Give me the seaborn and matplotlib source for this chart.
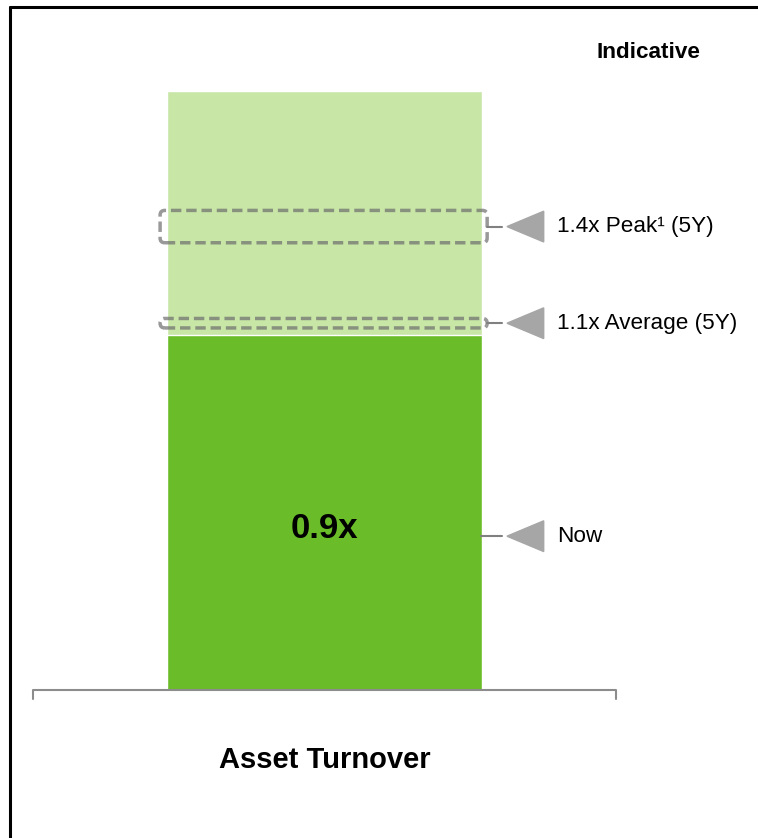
import matplotlib
matplotlib.use('Agg')
import matplotlib.pyplot as plt
import seaborn as sns
import pandas as pd
from matplotlib.patches import Polygon, FancyBboxPatch
from matplotlib.lines import Line2D

# Data (indicative chart, marker positions are not to scale)
categories = ['Asset Turnover']
now_value = [0.9]
range_top = [1.52]
marker_labels = ['1.4x Peak¹ (5Y)', '1.1x Average (5Y)', 'Now']
marker_pos = [1.175, 0.93, 0.39]
box_half = [0.041, 0.012]

sns.set_style('white')
plt.rcParams['font.family'] = ['Liberation Sans', 'DejaVu Sans']
plt.rcParams['text.color'] = 'black'

df = pd.DataFrame({'cat': categories, 'now': now_value, 'top': range_top})

fig = plt.figure(figsize=(7.58, 8.38), dpi=100)
ax = fig.add_axes([33/758, 148/838, 583/758, 690/838])

sns.barplot(x='cat', y='top', data=df, color='#C8E6A6', width=0.54, saturation=1, ax=ax)
sns.barplot(x='cat', y='now', data=df, color='#6ABD28', width=0.54, saturation=1, ax=ax)

ax.set_xlim(-0.5, 0.5)
ax.set_ylim(0, 1.7495)
for s in ax.spines.values():
    s.set_visible(False)
ax.set_xticks([])
ax.set_yticks([])
ax.set_xlabel('')
ax.set_ylabel('')

# baseline with end ticks
ax.plot([-0.5, -0.5, 0.5, 0.5], [-0.022, 0, 0, -0.022], color='#8C8C8C', lw=1.5, clip_on=False)

# bar value label
ax.text(0, 0.41, '0.9x', ha='center', va='center', fontsize=25, fontweight='bold', color='black')

# category label
ax.text(0, -0.1775, categories[0], ha='center', va='center', fontsize=21, fontweight='bold',
        color='black')

# dashed boxes for peak and average
for y, h in zip(marker_pos[:2], box_half):
    box = FancyBboxPatch((-0.282, y - h), 0.561, 2 * h,
                         boxstyle='round,pad=0,rounding_size=0.008', mutation_aspect=1.48,
                         fill=False, ec='#6E6E6E', lw=2.5, ls=(0, (3.0, 1.4)), alpha=0.7,
                         clip_on=False)
    ax.add_patch(box)

# connector lines + arrow triangles + labels
starts = [0.2787, 0.2787, 0.268]
for x0, y, lab in zip(starts, marker_pos, marker_labels):
    ax.plot([x0, 0.305], [y, y], color='#808080', lw=1.5, clip_on=False)
    tri = Polygon([[0.313, y], [0.376, y + 0.039], [0.376, y - 0.039]],
                  closed=True, color='#A6A6A6', clip_on=False)
    ax.add_patch(tri)
    ax.text(0.399, y, lab, ha='left', va='center', fontsize=16.2, color='black')

fig.text(648/758, 1 - 52/838, 'Indicative', ha='center', va='center',
         fontsize=16.2, fontweight='bold', color='black')

# frame lines (top and left)
fig.add_artist(Line2D([10/758, 1], [1 - 7/838, 1 - 7/838], color='black', lw=2.2))
fig.add_artist(Line2D([10/758, 10/758], [0, 1 - 7/838], color='black', lw=2.2))

plt.savefig('out.png', dpi=100)
